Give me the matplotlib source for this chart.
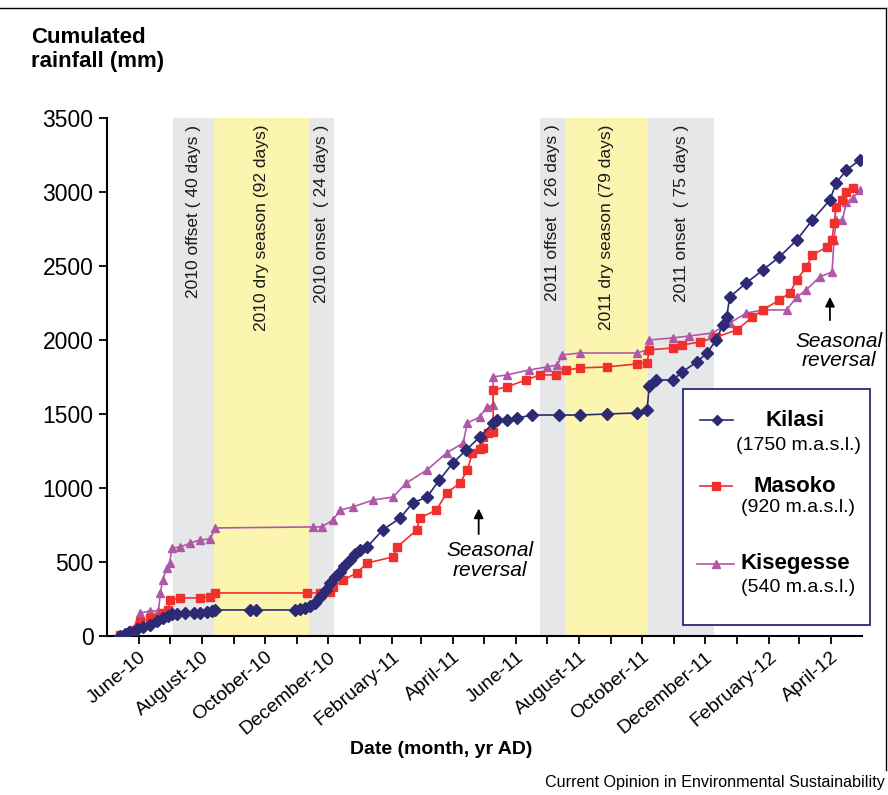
import matplotlib
matplotlib.use("Agg")
import matplotlib.pyplot as plt
import pandas as pd
from matplotlib.lines import Line2D
from matplotlib.patches import Rectangle

plt.rcParams['font.family'] = ['Liberation Sans', 'DejaVu Sans']

# record starts 1 May 2010; days counted from there
start = pd.Timestamp('2010-05-01')

kilasi_day = [13, 18, 22, 29, 35, 42, 49, 54, 59, 63, 68, 76, 84, 90, 97, 102, 105, 139, 144,
              182, 187, 192, 197, 202, 206, 212, 216, 221, 226, 230, 235, 240, 245, 252, 267,
              284, 296, 310, 322, 335, 348, 361, 374, 378, 387, 397, 412, 438, 458, 484, 513,
              523, 525, 532, 548, 557, 571, 581, 590, 596, 600, 603, 619, 635, 651, 668, 683,
              700, 706, 716, 729]
kilasi_mm = [0, 14, 27, 47, 61, 74, 101, 122, 135, 149, 149, 155, 155, 155, 162, 169, 176, 176, 176,
             176, 182, 189, 203, 223, 264, 311, 358, 399, 432, 473, 514, 554, 581, 601, 716,
             797, 899, 939, 1054, 1169, 1257, 1345, 1439, 1460, 1460, 1473, 1493, 1493, 1493, 1500, 1507,
             1527, 1689, 1730, 1730, 1784, 1851, 1912, 2000, 2100, 2155, 2291, 2385, 2473, 2561, 2676, 2811,
             2946, 3061, 3149, 3216]

masoko_day = [13, 20, 25, 32, 42, 54, 59, 61, 71, 90, 100, 105, 194, 206, 216, 219, 229, 242,
              252, 277, 281, 300, 303, 319, 329, 342, 349, 354, 361, 364, 364, 369, 374, 374,
              387, 406, 419, 435, 445, 458, 484, 513, 523, 525, 548, 557, 574, 590, 610, 625,
              635, 651, 661, 668, 677, 683, 697, 702, 704, 706, 712, 716, 722]
masoko_mm = [7, 0, 41, 95, 122, 155, 176, 243, 257, 257, 264, 291, 291, 291, 297, 331, 378, 426,
             493, 534, 601, 716, 797, 851, 966, 1034, 1122, 1237, 1264, 1270, 1345, 1372, 1379, 1662,
             1683, 1730, 1764, 1764, 1797, 1811, 1818, 1838, 1845, 1933, 1946, 1966, 1987, 2020, 2068, 2155,
             2203, 2270, 2318, 2406, 2493, 2574, 2628, 2676, 2791, 2899, 2946, 3000, 3027]

kisegesse_day = [16, 25, 32, 42, 50, 52, 54, 58, 61, 63, 71, 81, 90, 100, 105, 200, 208, 219,
                 226, 238, 258, 277, 290, 310, 329, 345, 349, 361, 368, 374, 374, 387, 409, 426,
                 436, 441, 458, 513, 523, 525, 548, 564, 586, 603, 619, 635, 658, 668, 677, 690,
                 702, 704, 706, 712, 716, 722, 729]
kisegesse_mm = [0, 41, 155, 169, 169, 291, 378, 459, 493, 595, 601, 628, 649, 655, 730, 737, 737, 784,
                851, 872, 919, 939, 1034, 1122, 1237, 1304, 1439, 1480, 1547, 1561, 1750, 1764, 1797, 1818,
                1831, 1899, 1912, 1912, 1933, 2000, 2014, 2027, 2047, 2115, 2182, 2203, 2203, 2291, 2338, 2426,
                2460, 2676, 2811, 2811, 2932, 2960, 3014]

# season bands
band_start = ['2010-07-04', '2010-08-13', '2010-11-13', '2011-06-24', '2011-07-19', '2011-10-07']
band_end = ['2010-08-13', '2010-11-13', '2010-12-07', '2011-07-19', '2011-10-07', '2011-12-10']
band_label = ['2010 offset ( 40 days )', '2010 dry season (92 days)', '2010 onset  ( 24 days )',
              '2011 offset  ( 26 days )', '2011 dry season (79 days)', '2011 onset  ( 75 days )']
band_kind = ['gray', 'yellow', 'gray', 'gray', 'yellow', 'gray']

tick_months = pd.date_range('2010-05-01', '2012-05-01', freq='MS')
label_months = ['June-10', 'August-10', 'October-10', 'December-10', 'February-11', 'April-11',
                'June-11', 'August-11', 'October-11', 'December-11', 'February-12', 'April-12']

navy = '#2b2a72'
red = '#f0302c'
purple = '#b058a8'
band_colors = {'gray': '#e6e7e9', 'yellow': '#fcf5b0'}


def to_dates(days):
    return start + pd.to_timedelta(days, unit='D')


fig = plt.figure(figsize=(8.88, 7.95), dpi=100)
ax = fig.add_axes([0.1202, 0.2, 0.8505, 0.6516])

for s, e, lab, kind in zip(band_start, band_end, band_label, band_kind):
    s, e = pd.Timestamp(s), pd.Timestamp(e)
    ax.axvspan(s, e, color=band_colors[kind], lw=0, zorder=0)
    ax.text(s + (e - s) / 2, 3455, lab, rotation=90, ha='center', va='top',
            fontsize=12.5, color='#1a1a1a', zorder=1)

ax.plot(to_dates(kisegesse_day), kisegesse_mm, color=purple, lw=1.2, marker='^',
        ms=6, mec=purple, mfc=purple, zorder=3)
ax.plot(to_dates(masoko_day), masoko_mm, color=red, lw=1.2, marker='s',
        ms=5.5, mec=red, mfc=red, zorder=4)
ax.plot(to_dates(kilasi_day), kilasi_mm, color=navy, lw=1.2, marker='D',
        ms=6.5, mec=navy, mfc=navy, zorder=5)

ax.set_xlim(tick_months[0], tick_months[-1])
ax.set_ylim(0, 3500)
ax.set_yticks(range(0, 3501, 500))
ax.tick_params(axis='y', labelsize=16.5, length=6, width=1.3, direction='out')

ax.set_xticks(tick_months[1:-1])
xlabels = []
for i in range(len(tick_months) - 2):
    xlabels.append(label_months[i // 2] if i % 2 == 0 else '')
ax.set_xticklabels(xlabels, rotation=40, ha='right', rotation_mode='anchor', fontsize=14)
ax.tick_params(axis='x', length=6, width=1.3, direction='out', pad=3)

for side in ['top', 'right']:
    ax.spines[side].set_visible(False)
for side in ['left', 'bottom']:
    ax.spines[side].set_linewidth(1.5)

# annotations
ax.annotate('', xy=(pd.Timestamp('2011-04-26'), 880), xytext=(pd.Timestamp('2011-04-26'), 670),
            arrowprops=dict(arrowstyle='-|>', color='black', lw=1.3, mutation_scale=14))
ax.text(pd.Timestamp('2011-05-07'), 510, 'Seasonal\nreversal', style='italic', fontsize=15,
        ha='center', va='center', linespacing=1.05)
ax.annotate('', xy=(pd.Timestamp('2012-03-31'), 2310), xytext=(pd.Timestamp('2012-03-31'), 2115),
            arrowprops=dict(arrowstyle='-|>', color='black', lw=1.3, mutation_scale=14))
ax.text(pd.Timestamp('2012-04-09'), 1926, 'Seasonal\nreversal', style='italic', fontsize=15,
        ha='center', va='center', linespacing=1.05)

# titles
fig.text(31 / 888, 1 - 27 / 795, 'Cumulated\nrainfall (mm)', fontsize=16, fontweight='bold',
         ha='left', va='top', linespacing=1.2)
fig.text(441 / 888, 1 - 750 / 795, 'Date (month, yr AD)', fontsize=14, fontweight='bold',
         ha='center', va='center')
fig.text(885 / 888, 1 - 783 / 795, 'Current Opinion in Environmental Sustainability',
         fontsize=11.6, ha='right', va='center')

# legend box drawn by hand
W, H = 888.0, 795.0
fig.patches.append(Rectangle((683 / W, 1 - 625 / H), (870 - 683) / W, (625 - 389) / H,
                             transform=fig.transFigure, fill=True, fc='white', ec=navy, lw=1.3,
                             zorder=10))
entries = [('Kilasi', '(1750 m.a.s.l.)', navy, 'D', 420, 445, 700, 733),
           ('Masoko', '(920 m.a.s.l.)', red, 's', 486, 507, 700, 732),
           ('Kisegesse', '(540 m.a.s.l.)', purple, '^', 564, 588, 697, 734)]
for name, alt, col, mk, y1, y2, x0, x1 in entries:
    fig.add_artist(Line2D([x0 / W, x1 / W], [1 - y1 / H, 1 - y1 / H], transform=fig.transFigure,
                          color=col, lw=1.2, zorder=11))
    fig.add_artist(Line2D([(x0 + x1) / 2 / W], [1 - y1 / H], transform=fig.transFigure,
                          color=col, marker=mk, ms=5.5, zorder=11))
    fig.text(795 / W, 1 - y1 / H, name, fontsize=16, fontweight='bold', ha='center', va='center',
             zorder=12)
    fig.text(798 / W, 1 - y2 / H, alt, fontsize=14, ha='center', va='center', zorder=12)

# thin frame lines at top and right of the panel
fig.add_artist(Line2D([0, 886 / W], [1 - 8 / H, 1 - 8 / H], transform=fig.transFigure,
                      color='black', lw=1))
fig.add_artist(Line2D([886 / W, 886 / W], [1 - 8 / H, 1 - 770 / H], transform=fig.transFigure,
                      color='black', lw=1))

fig.savefig('out.png', dpi=100, facecolor='white')
